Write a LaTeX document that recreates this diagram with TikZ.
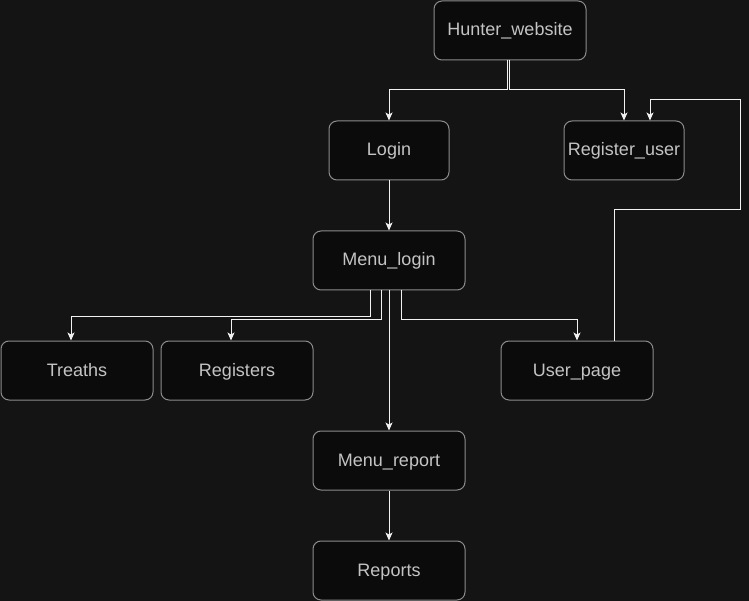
\documentclass[tikz,border=0pt]{standalone}
\usepackage{fontspec}
\setmainfont{Liberation Sans}
\usetikzlibrary{arrows.meta}
\definecolor{bg}{HTML}{141414}
\definecolor{boxfill}{HTML}{0B0B0B}
\definecolor{boxline}{HTML}{8C8C8C}
\definecolor{txt}{HTML}{C4C4C4}
\definecolor{wire}{HTML}{F2F2F2}
\tikzset{
  box/.style={draw=boxline, fill=boxfill, rounded corners=8pt, minimum width=152pt,
    minimum height=59pt, text=txt, font=\fontsize{18}{21}\selectfont, line width=1pt, inner sep=0pt,
    text height=14pt, text depth=3pt},
  smallbox/.style={box, minimum width=120pt},
  wireline/.style={draw=wire, line width=1pt},
  arr/.style={wireline, -{Stealth[length=8pt,width=7pt,inset=2pt]}}
}
\begin{document}
\begin{tikzpicture}[x=1pt,y=-1pt]
\fill[bg] (0,0) rectangle (749,601);
\useasboundingbox (0,0) rectangle (749,601);

\node[box] (hw) at (510,30.5) {Hunter\_website};
\node[smallbox] (login) at (389,150.5) {Login};
\node[smallbox] (reg) at (624,150.5) {Register\_user};
\node[box] (ml) at (389,260.5) {Menu\_login};
\node[box] (tr) at (77,370.5) {Treaths};
\node[box] (rs) at (237,370.5) {Registers};
\node[box] (up) at (577,370.5) {User\_page};
\node[box] (mr) at (389,460.5) {Menu\_report};
\node[box] (rp) at (389,570.5) {Reports};

% Hunter_website -> Login / Register_user
\coordinate (h1) at (507,90);
\coordinate (h2) at (509,90);
\draw[arr] (h1 |- hw.south) -- (h1) -| (login.north);
\draw[arr] (h2 |- hw.south) -- (h2) -| (reg.north);

% Login -> Menu_login
\draw[arr] (login.south) -- (ml.north);

% User_page -> Register_user loop
\coordinate (u1) at (614,210);
\coordinate (u2) at (740,210);
\coordinate (u3) at (740,100);
\coordinate (u4) at (650,100);
\draw[arr] (u1 |- up.north) -- (u1) -- (u2) -- (u3) -- (u4) -- (u4 |- reg.north);

% Menu_login -> Treaths
\coordinate (t1) at (370,317);
\coordinate (t2) at (71,317);
\draw[arr] (t1 |- ml.south) -- (t1) -- (t2) -- (t2 |- tr.north);

% Menu_login -> Registers
\coordinate (r1) at (381,320);
\coordinate (r2) at (231,320);
\draw[arr] (r1 |- ml.south) -- (r1) -- (r2) -- (r2 |- rs.north);

% Menu_login -> User_page
\coordinate (p1) at (401,320);
\coordinate (p2) at (577,320);
\draw[arr] (p1 |- ml.south) -- (p1) -- (p2) -- (p2 |- up.north);

% Menu_login -> Menu_report
\draw[arr] (ml.south) -- (mr.north);

% Menu_report -> Reports
\draw[arr] (mr.south) -- (rp.north);
\end{tikzpicture}
\end{document}
